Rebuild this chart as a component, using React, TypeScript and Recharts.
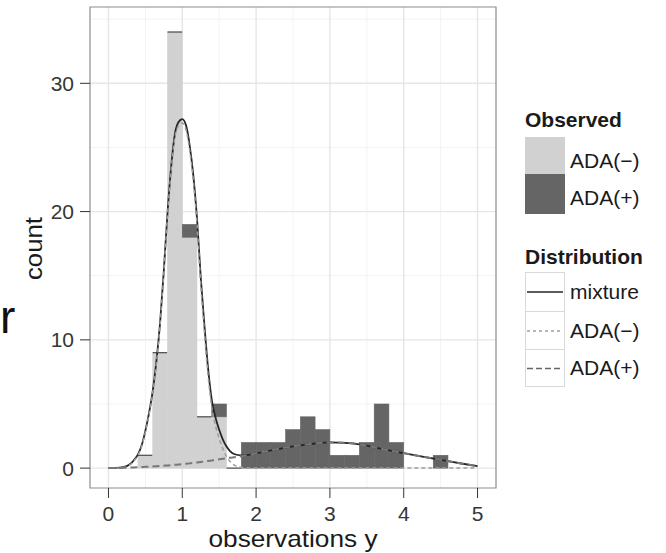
import { ComposedChart, Bar, Line, XAxis, YAxis, CartesianGrid, ReferenceArea, Legend } from "recharts";

const FONT = '"Liberation Sans", Arial, Helvetica, sans-serif';
const LIGHT = "#d1d1d1";
const DARK = "#656565";

// histogram bins (width 0.2), given by their centres
const binMid = [0.5, 0.7, 0.9, 1.1, 1.3, 1.5, 1.7, 1.9, 2.1, 2.3, 2.5, 2.7, 2.9, 3.1, 3.3, 3.5, 3.7, 3.9, 4.5];
const obsNeg = [1, 9, 34, 18, 4, 4, 0, 0, 0, 0, 0, 0, 0, 0, 0, 0, 0, 0, 0];
const obsPos = [0, 0, 0, 1, 0, 1, 0, 2, 2, 2, 3, 4, 3, 1, 1, 2, 5, 2, 1];
// bins where the empty ADA(+) outline sits on top of the stack
const capBins = [0.5, 0.7, 0.9, 1.3, 1.7];

// fitted densities (scaled to counts)
const curveX = [0, 0.1, 0.2, 0.3, 0.35, 0.4, 0.45, 0.5, 0.55, 0.6, 0.65, 0.7, 0.75, 0.8, 0.85, 0.9, 0.95, 1.0, 1.05, 1.1, 1.15, 1.2, 1.25, 1.3, 1.35, 1.4, 1.45, 1.5, 1.55, 1.6, 1.65, 1.7, 1.8, 1.9, 2.0, 2.2, 2.4, 2.6, 2.8, 3.0, 3.2, 3.4, 3.6, 3.8, 4.0, 4.2, 4.4, 4.6, 4.8, 5.0];
const mixY = [0, 0.01, 0.07, 0.34, 0.65, 1.07, 1.78, 2.9, 4.31, 6.03, 8.35, 11.37, 15.39, 19.91, 23.53, 26.06, 26.98, 27.21, 26.74, 25.17, 22.8, 19.44, 14.88, 11.12, 7.76, 5.3, 3.94, 2.99, 2.23, 1.68, 1.31, 1.1, 0.99, 1.04, 1.15, 1.38, 1.6, 1.78, 1.92, 2.0, 1.97, 1.85, 1.62, 1.38, 1.17, 0.95, 0.75, 0.54, 0.34, 0.15];
const negY = [0, 0, 0.05, 0.3, 0.6, 1.0, 1.7, 2.8, 4.2, 5.9, 8.2, 11.2, 15.2, 19.7, 23.3, 25.8, 26.7, 26.9, 26.4, 24.8, 22.4, 19.0, 14.4, 10.6, 7.2, 4.7, 3.3, 2.3, 1.5, 0.9, 0.5, 0.25, 0.06, 0.01, 0, 0, 0, 0, 0, 0, 0, 0, 0, 0, 0, 0, 0, 0, 0, 0];
const posY = [0, 0.01, 0.02, 0.04, 0.05, 0.07, 0.08, 0.1, 0.11, 0.13, 0.15, 0.17, 0.19, 0.21, 0.23, 0.26, 0.28, 0.31, 0.34, 0.37, 0.4, 0.44, 0.48, 0.52, 0.56, 0.6, 0.64, 0.69, 0.73, 0.78, 0.81, 0.85, 0.93, 1.03, 1.15, 1.38, 1.6, 1.78, 1.92, 2.0, 1.97, 1.85, 1.62, 1.38, 1.17, 0.95, 0.75, 0.54, 0.34, 0.15];

const xTicks = [0, 1, 2, 3, 4, 5];
const xMinor = [0.5, 1.5, 2.5, 3.5, 4.5];
const yTicks = [0, 10, 20, 30];
const yMinor = [5, 15, 25, 35];

const bins = binMid.map((x, i) => ({ x, neg: obsNeg[i], pos: obsPos[i], cap: capBins.includes(x) }));
const curves = curveX.map((x, i) => ({ x, mix: mixY[i], neg: negY[i], pos: posY[i] }));

const NegShape = (p: any) => {
  const { x, y, width, height, payload } = p;
  return (
    <g>
      {height > 0 && <rect x={x} y={y} width={width} height={height} fill={LIGHT} stroke={LIGHT} strokeWidth={0.6} />}
      {payload && payload.cap && <line x1={x} x2={x + width} y1={y} y2={y} stroke="#4a4a4a" strokeWidth={1.2} />}
    </g>
  );
};

const PosShape = (p: any) => {
  const { x, y, width, height } = p;
  if (!(height > 0)) return <g />;
  return <rect x={x} y={y} width={width} height={height} fill={DARK} stroke={DARK} strokeWidth={0.6} />;
};

const txt = { fontFamily: FONT, fill: "#1a1a1a" };

const LegendAndTitles = () => (
  <svg width={666} height={553} style={{ position: "absolute", left: 0, top: 0, overflow: "visible" }}>
    <text x={0} y={333} fontSize={46} {...txt} fill="#111">r</text>
    <text x={293} y={546.5} fontSize={24} textAnchor="middle" textLength={169} lengthAdjust="spacingAndGlyphs" {...txt}>observations y</text>
    <text x={41.5} y={248.5} fontSize={24} textAnchor="middle" textLength={63} lengthAdjust="spacingAndGlyphs" transform="rotate(-90 41.5 248.5)" {...txt}>count</text>

    <text x={525} y={127} fontSize={21} fontWeight="bold" {...txt}>Observed</text>
    <rect x={525} y={137} width={40} height={37} fill={LIGHT} />
    <rect x={525} y={174} width={40} height={40} fill={DARK} />
    <text x={570} y={168} fontSize={21} {...txt}>ADA(−)</text>
    <text x={570} y={205} fontSize={21} {...txt}>ADA(+)</text>

    <text x={525} y={263.5} fontSize={21} fontWeight="bold" {...txt}>Distribution</text>
    <rect x={525.5} y={272.5} width={39} height={39} fill="#fff" stroke="#d9d9d9" />
    <rect x={525.5} y={311.5} width={39} height={38} fill="#fff" stroke="#d9d9d9" />
    <rect x={525.5} y={349.5} width={39} height={37} fill="#fff" stroke="#d9d9d9" />
    <line x1={527} x2={563} y1={292} y2={292} stroke="#262626" strokeWidth={1.7} />
    <line x1={527} x2={563} y1={331} y2={331} stroke="#a0a0a0" strokeWidth={1.5} strokeDasharray="3 3" />
    <line x1={527} x2={563} y1={368.5} y2={368.5} stroke="#666" strokeWidth={1.7} strokeDasharray="6 3" />
    <text x={570} y={299} fontSize={21} {...txt}>mixture</text>
    <text x={570} y={338} fontSize={21} {...txt}>ADA(−)</text>
    <text x={570} y={375} fontSize={21} {...txt}>ADA(+)</text>
  </svg>
);

export default function App() {
  const tickStyle = { fontFamily: FONT, fontSize: 21, fill: "#363636" };
  return (
    <div style={{ position: "absolute", left: 0, top: 0, width: 666, height: 553, background: "#fff" }}>
      <ComposedChart width={666} height={553} data={bins} margin={{ top: 7, right: 170, bottom: 25, left: 30 }}>
        <CartesianGrid verticalValues={xMinor} horizontalValues={yMinor} stroke="#f3f3f3" strokeWidth={1} />
        <CartesianGrid verticalValues={xTicks} horizontalValues={yTicks} stroke="#e6e6e6" strokeWidth={1.4} />
        <XAxis
          type="number"
          dataKey="x"
          domain={[-0.25, 5.25]}
          allowDataOverflow
          ticks={xTicks}
          interval={0}
          height={40}
          axisLine={false}
          tickSize={10}
          tickMargin={8}
          tickLine={{ stroke: "#333" }}
          tick={tickStyle}
        />
        <XAxis xAxisId="bin" type="number" dataKey="x" domain={[-0.25, 5.25]} allowDataOverflow hide />
        <YAxis
          type="number"
          domain={[-1.55, 35.95]}
          allowDataOverflow
          ticks={yTicks}
          interval={0}
          width={60}
          axisLine={false}
          tickSize={10}
          tickMargin={6}
          tickLine={{ stroke: "#333" }}
          tick={tickStyle}
        />
        <Bar xAxisId="bin" dataKey="neg" stackId="h" barSize={14.7} shape={NegShape} isAnimationActive={false} />
        <Bar xAxisId="bin" dataKey="pos" stackId="h" barSize={14.7} shape={PosShape} isAnimationActive={false} />
        <Line data={curves} dataKey="mix" type="monotone" stroke="#262626" strokeWidth={1.8} dot={false} isAnimationActive={false} />
        <Line data={curves} dataKey="neg" type="monotone" stroke="#9c9c9c" strokeWidth={1.5} strokeDasharray="4 3" dot={false} isAnimationActive={false} />
        <Line data={curves} dataKey="pos" type="monotone" stroke="#777" strokeWidth={2} strokeDasharray="7 4" dot={false} isAnimationActive={false} />
        <ReferenceArea x1={-0.25} x2={5.25} y1={-1.55} y2={35.95} fill="none" stroke="#8c8c8c" strokeWidth={1.2} ifOverflow="visible" />
        <Legend content={LegendAndTitles} wrapperStyle={{ position: "absolute", left: 0, top: 0, width: 0, height: 0 }} />
      </ComposedChart>
    </div>
  );
}
